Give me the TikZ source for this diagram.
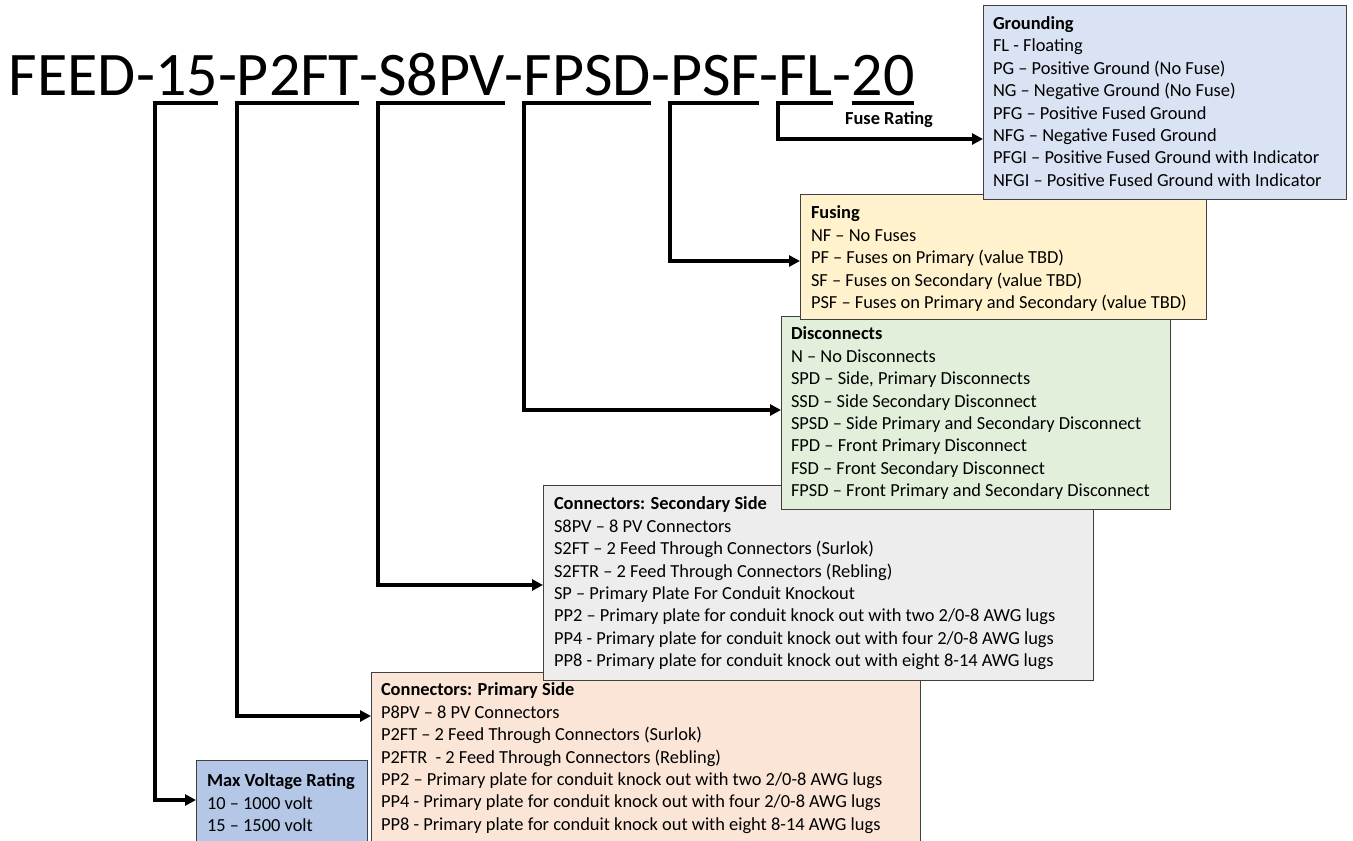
\documentclass[tikz,border=0pt]{standalone}
\usepackage{fontspec}
\setmainfont{Carlito}
\usetikzlibrary{arrows.meta}
\definecolor{gndfill}{HTML}{DAE3F3}
\definecolor{fusfill}{HTML}{FFF2CC}
\definecolor{disfill}{HTML}{E2EFDA}
\definecolor{secfill}{HTML}{EDEDED}
\definecolor{prifill}{HTML}{FBE5D6}
\definecolor{mvfill}{HTML}{B4C7E7}
\begin{document}
\begin{tikzpicture}[x=1pt,y=-1pt,
  frame/.style={draw=black!75, line width=0.9pt, anchor=north west, inner sep=0pt, outer sep=0pt},
  body/.style={anchor=north west, inner sep=0pt, outer sep=0pt, align=left,
    font=\fontsize{18.4}{22.4}\selectfont, execute at begin node={\rule{0pt}{15pt}}},
  tpart/.style={anchor=base west, inner sep=0pt, outer sep=0pt, font=\fontsize{62}{74}\selectfont},
  conn/.style={line width=3.5pt, line join=miter, -{Triangle[length=11pt,width=11pt]}},
  bar/.style={line width=3.5pt}]
\useasboundingbox (0,0) rectangle (1353,841);
\fill[white] (0,0) rectangle (1353,841);

% title
\node[tpart] (tFEED) at (9,95) {FEED-};
\node[tpart] (t15) at (tFEED.base east) {15};
\node[tpart] (d1) at (t15.base east) {-};
\node[tpart] (tP2FT) at (d1.base east) {P2FT};
\node[tpart] (d2) at (tP2FT.base east) {-};
\node[tpart] (tS8PV) at (d2.base east) {S8PV};
\node[tpart] (d3) at (tS8PV.base east) {-};
\node[tpart] (tFPSD) at (d3.base east) {FPSD};
\node[tpart] (d4) at (tFPSD.base east) {-};
\node[tpart] (tPSF) at (d4.base east) {PSF};
\node[tpart] (d5) at (tPSF.base east) {-};
\node[tpart] (tFL) at (d5.base east) {FL};
\node[tpart] (d6) at (tFL.base east) {-};
\node[tpart] (t20) at (d6.base east) {20};

% boxes
\node[frame, fill=mvfill, minimum width=171pt, minimum height=100pt] (mv) at (196,760) {};
\node[body] (mvt) at ([xshift=11pt,yshift=-14pt]mv.north west) {\textbf{Max Voltage Rating}\\10 – 1000 volt\\15 – 1500 volt};

\node[frame, fill=prifill, minimum width=549pt, minimum height=190pt] (pri) at (371,672) {};
\node[body] (prit) at ([xshift=10pt,yshift=-11pt]pri.north west) {\textbf{Connectors: Primary Side}\\
P8PV – 8 PV Connectors\\
P2FT – 2 Feed Through Connectors (Surlok)\\
P2FTR\ \ - 2 Feed Through Connectors (Rebling)\\
PP2 – Primary plate for conduit knock out with two 2/0-8 AWG lugs\\
PP4 - Primary plate for conduit knock out with four 2/0-8 AWG lugs\\
PP8 - Primary plate for conduit knock out with eight 8-14 AWG lugs};

\node[frame, fill=secfill, minimum width=550pt, minimum height=195pt] (sec) at (543,485) {};
\node[body] (sect) at ([xshift=11pt,yshift=-12pt]sec.north west) {\textbf{Connectors: Secondary Side}\\
S8PV – 8 PV Connectors\\
S2FT – 2 Feed Through Connectors (Surlok)\\
S2FTR – 2 Feed Through Connectors (Rebling)\\
SP – Primary Plate For Conduit Knockout\\
PP2 – Primary plate for conduit knock out with two 2/0-8 AWG lugs\\
PP4 - Primary plate for conduit knock out with four 2/0-8 AWG lugs\\
PP8 - Primary plate for conduit knock out with eight 8-14 AWG lugs};

\node[frame, fill=disfill, minimum width=389pt, minimum height=193pt] (dis) at (781,316) {};
\node[body] (dist) at ([xshift=10pt,yshift=-11pt]dis.north west) {\textbf{Disconnects}\\
N – No Disconnects\\
SPD – Side, Primary Disconnects\\
SSD – Side Secondary Disconnect\\
SPSD – Side Primary and Secondary Disconnect\\
FPD – Front Primary Disconnect\\
FSD – Front Secondary Disconnect\\
FPSD – Front Primary and Secondary Disconnect};

\node[frame, fill=fusfill, minimum width=406pt, minimum height=125pt] (fus) at (800,194) {};
\node[body] (fust) at ([xshift=11pt,yshift=-12pt]fus.north west) {\textbf{Fusing}\\
NF – No Fuses\\
PF – Fuses on Primary (value TBD)\\
SF – Fuses on Secondary (value TBD)\\
PSF – Fuses on Primary and Secondary (value TBD)};

\node[frame, fill=gndfill, minimum width=363pt, minimum height=194pt] (gnd) at (983,5) {};
\node[body] (gndt) at ([xshift=10pt,yshift=-11.5pt]gnd.north west) {\textbf{Grounding}\\
FL - Floating\\
PG – Positive Ground (No Fuse)\\
NG – Negative Ground (No Fuse)\\
PFG – Positive Fused Ground\\
NFG – Negative Fused Ground\\
PFGI – Positive Fused Ground with Indicator\\
NFGI – Positive Fused Ground with Indicator};

\node[font=\fontsize{18.4}{22}\selectfont\bfseries, inner sep=0pt] (fr) at (889,120) {Fuse Rating};

% connectors
\draw[conn] ([yshift=-8pt]t15.base east) -- ([yshift=-8pt]t15.base west) |- ([yshift=-40pt]mv.north west);
\draw[conn] ([yshift=-8pt]tP2FT.base east) -- ([yshift=-8pt]tP2FT.base west) |- ([yshift=-44pt]pri.north west);
\draw[conn] ([yshift=-8pt]tS8PV.base east) -- ([yshift=-8pt]tS8PV.base west) |- ([yshift=-100pt]sec.north west);
\draw[conn] ([yshift=-8pt]tFPSD.base east) -- ([yshift=-8pt]tFPSD.base west) |- ([yshift=-94pt]dis.north west);
\draw[conn] ([yshift=-8pt]tPSF.base east) -- ([yshift=-8pt]tPSF.base west) |- ([yshift=-67pt]fus.north west);
\draw[conn] ([yshift=-8pt]tFL.base east) -- ([yshift=-8pt]tFL.base west) |- ([yshift=-134pt]gnd.north west);
\draw[bar] ([yshift=-8pt]t20.base west) -- ([yshift=-8pt]t20.base east);
\end{tikzpicture}
\end{document}
